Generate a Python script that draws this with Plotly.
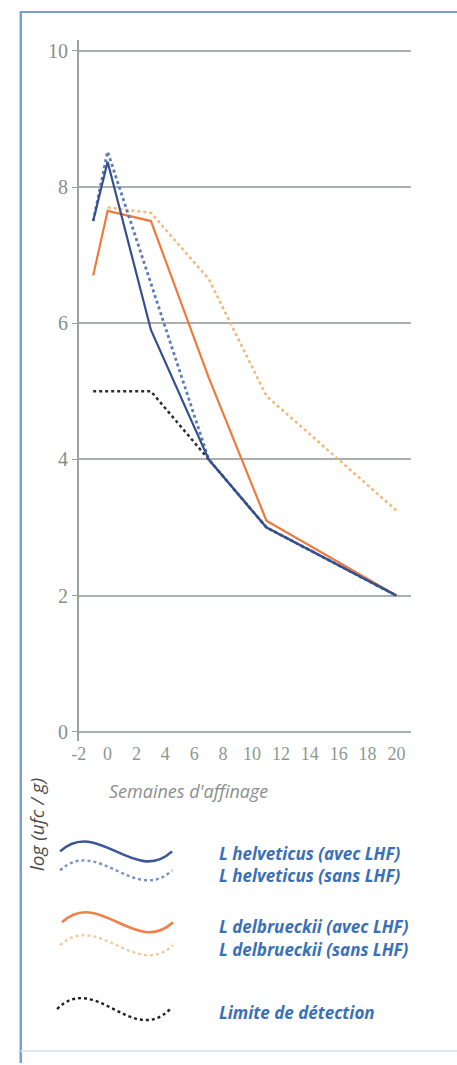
import plotly.graph_objects as go

W, H = 457, 1065

# Data (weeks of ripening, log cfu/g)
helv_avec_x = [-1, 0, 3, 7, 11, 20]
helv_avec_y = [7.5, 8.37, 5.9, 4.0, 3.0, 2.0]
helv_sans_x = [-1, 0, 7, 11, 20]
helv_sans_y = [7.5, 8.52, 4.0, 3.0, 2.0]
delb_avec_x = [-1, 0, 3, 7, 11, 20]
delb_avec_y = [6.7, 7.65, 7.5, 5.2, 3.1, 2.0]
delb_sans_x = [0, 3, 7, 11, 20]
delb_sans_y = [7.7, 7.62, 6.65, 4.93, 3.25]
limit_x = [-1, 3, 7, 11, 20]
limit_y = [5.0, 5.0, 4.0, 3.0, 2.0]

x_ticks = [-2, 0, 2, 4, 6, 8, 10, 12, 14, 16, 18, 20]
y_ticks = [0, 2, 4, 6, 8, 10]

legend_labels = ["L helveticus (avec LHF)", "L helveticus (sans LHF)",
                 "L delbrueckii (avec LHF)", "L delbrueckii (sans LHF)",
                 "Limite de détection"]


def px(x):
    return x / W


def py(y):
    return 1 - y / H


fig = go.Figure()

fig.add_trace(go.Scatter(x=limit_x, y=limit_y, mode="lines",
                         line=dict(color="#2b2b33", width=2.5, dash="dot")))
fig.add_trace(go.Scatter(x=delb_sans_x, y=delb_sans_y, mode="lines",
                         line=dict(color="#f2b77c", width=2.5, dash="dot")))
fig.add_trace(go.Scatter(x=delb_avec_x, y=delb_avec_y, mode="lines",
                         line=dict(color="#f07a3c", width=2.2)))
fig.add_trace(go.Scatter(x=helv_sans_x, y=helv_sans_y, mode="lines",
                         line=dict(color="#5b7bbd", width=2.8, dash="dot")))
fig.add_trace(go.Scatter(x=helv_avec_x, y=helv_avec_y, mode="lines",
                         line=dict(color="#34508f", width=2.2)))

serif = "Liberation Serif, DejaVu Serif, serif"

fig.update_layout(
    width=W, height=H,
    margin=dict(l=0, r=0, t=0, b=0),
    paper_bgcolor="white", plot_bgcolor="white",
    showlegend=False,
    xaxis=dict(range=[-2, 21], domain=[px(72), px(410)],
               tickvals=x_ticks, ticktext=[str(v) for v in x_ticks],
               showgrid=False, zeroline=False, showline=False,
               tickfont=dict(family=serif, size=18, color="#8d9792"),
               ticks="", anchor="y"),
    yaxis=dict(range=[-0.13, 10.16], domain=[py(742), py(40)],
               tickvals=y_ticks, ticktext=[str(v) for v in y_ticks],
               showgrid=True, gridcolor="#a9b0ad", gridwidth=1.8,
               zeroline=True, zerolinecolor="#a9b0ad", zerolinewidth=1.8,
               showline=True, linecolor="#9aa19e", linewidth=1.5,
               ticks="outside", ticklen=5, tickcolor="#9aa19e",
               tickfont=dict(family=serif, size=20, color="#86908b"), anchor="x"),
)

# page frame
frame_col = "#7c9fcf"
fig.add_shape(type="line", xref="paper", yref="paper", x0=px(12), x1=1, y0=py(12), y1=py(12),
              line=dict(color=frame_col, width=2))
fig.add_shape(type="line", xref="paper", yref="paper", x0=px(13), x1=px(13), y0=py(12), y1=0,
              line=dict(color=frame_col, width=2.5))
fig.add_shape(type="line", xref="paper", yref="paper", x0=px(13), x1=1, y0=py(1053), y1=py(1053),
              line=dict(color="#dde7f2", width=2))

# axis titles
fig.add_annotation(xref="paper", yref="paper", x=px(184), y=py(792), text="Semaines d'affinage",
                   xanchor="center", yanchor="middle", showarrow=False,
                   font=dict(family="Open Sans, Noto Sans, sans-serif", size=18,
                             color="#8a8f8f", style="italic"))
fig.add_annotation(xref="paper", yref="paper", x=px(30), y=py(826), text="log (ufc / g)",
                   xanchor="center", yanchor="middle", textangle=-90, showarrow=False,
                   font=dict(family="Open Sans, Noto Sans, sans-serif", size=19,
                             color="#4a4a4a", style="italic"))


# legend glyphs: S-shaped curves
def wave(x0, x1, yc, amp):
    a = amp / 0.289
    dx = (x1 - x0) / 3
    pts = [(x0, yc), (x0 + dx, yc - a), (x0 + 2 * dx, yc + a), (x1, yc)]
    p = [(px(x), py(y)) for x, y in pts]
    return "M {} {} C {} {}, {} {}, {} {}".format(p[0][0], p[0][1], p[1][0], p[1][1],
                                                  p[2][0], p[2][1], p[3][0], p[3][1])


glyphs = [
    (53, 167, 853, 10, "#3c5796", 2.6, "solid"),
    (53, 167, 872, 10, "#7891c8", 2.4, "dot"),
    (55, 168, 924, 10, "#f0804a", 2.6, "solid"),
    (53, 168, 947, 10, "#f4c9a0", 2.4, "dot"),
    (50, 165, 1011, 11, "#222222", 2.4, "dot"),
]
for x0, x1, yc, amp, col, w, dash in glyphs:
    fig.add_shape(type="path", xref="paper", yref="paper", path=wave(x0, x1, yc, amp),
                  line=dict(color=col, width=w, dash=dash))

legend_y = [855, 877, 928, 951, 1014]
for lab, yy in zip(legend_labels, legend_y):
    fig.add_annotation(xref="paper", yref="paper", x=px(213), y=py(yy),
                       xanchor="left", yanchor="middle",
                       text=lab, showarrow=False,
                       font=dict(family="Open Sans, Noto Sans, sans-serif", size=17,
                                 color="#3a70b8", style="italic", weight="bold"))

fig.write_html("out.html", config={"displayModeBar": False},
               post_script="document.body.style.margin='0';document.body.style.overflow='hidden';")
